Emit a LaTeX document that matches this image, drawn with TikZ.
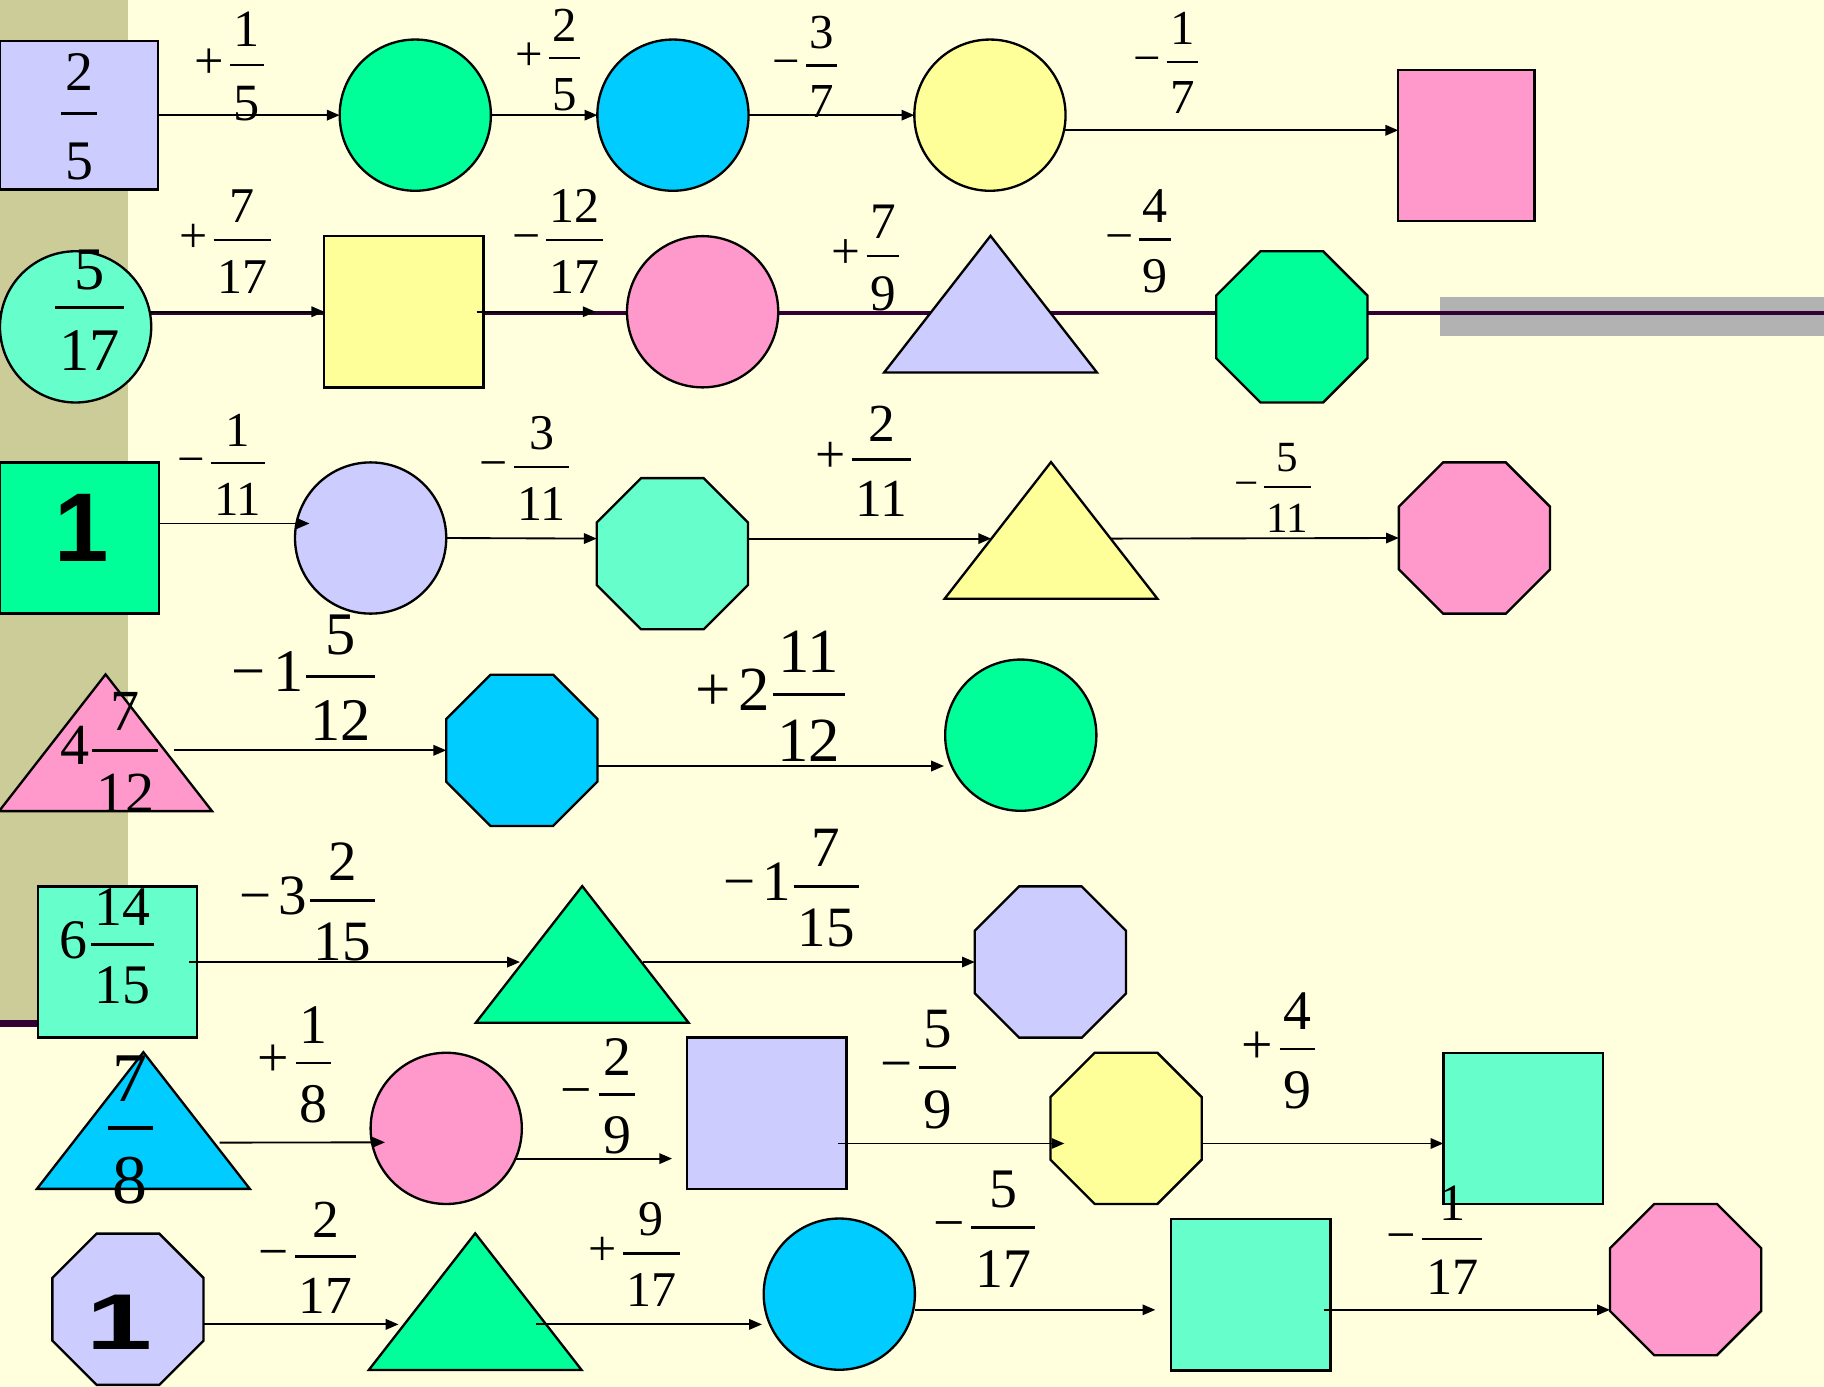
\documentclass[tikz,border=0pt]{standalone}
\usepackage{fontspec}
\usepackage{graphicx}
\setmainfont{Liberation Serif}
\newfontfamily\sansf{Liberation Sans}
\usetikzlibrary{shapes.geometric,arrows.meta,calc}
\definecolor{bgc}{HTML}{FFFFDD}
\definecolor{khaki}{HTML}{CCCC99}
\definecolor{grayb}{HTML}{B2B2B2}
\definecolor{tmplc}{HTML}{330033}
\definecolor{lav}{HTML}{CCCCFF}
\definecolor{grn}{HTML}{00FF99}
\definecolor{blu}{HTML}{00CCFF}
\definecolor{yel}{HTML}{FFFF99}
\definecolor{pnk}{HTML}{FF99CC}
\definecolor{aqu}{HTML}{66FFCC}
\newcommand\fs[1]{\fontsize{#1pt}{#1pt}\selectfont}
\newcommand\frg[4]{\raisebox{-\dimexpr.68em+#2-.225em\relax}{\vbox{\offinterlineskip\halign{\hfil\kern.07em##\kern.07em\hfil\cr\rule{0pt}{.68em}#3\cr\noalign{\kern#1\hrule height .05em\kern#2}\rule{0pt}{.68em}#4\cr}}}}
\newcommand\fr[2]{\frg{.32em}{.36em}{#1}{#2}}
\newcommand\pl{+\kern.12em}
\newcommand\mi{−\kern.12em}
\begin{document}
\begin{tikzpicture}[x=0.5pt,y=-0.5pt,
  shp/.style={draw=black,line width=1pt},
  circ/.style={shp,circle,minimum size=65pt,inner sep=0pt,outer sep=0pt},
  oct/.style={shp,regular polygon,regular polygon sides=8,minimum size=70.36pt,inner sep=0pt,outer sep=0pt},
  rect/.style={shp,rectangle,inner sep=0pt,outer sep=0pt,minimum width=68.5pt,minimum height=65pt},
  tribox/.style={rectangle,inner sep=0pt,outer sep=0pt,minimum width=91.5pt,minimum height=58.75pt},
  arr/.style={draw=black,line width=0.8pt,-{Triangle[length=5.5pt,width=4.5pt]}},
  lab/.style={inner sep=0pt,outer sep=0pt,anchor=center}]
% background
\fill[bgc] (0,0) rectangle (1568,1192);
\useasboundingbox (0,0) rectangle (1568,1192);
\fill[khaki] (0,0) rectangle (110,880);
\fill[grayb] (1238,255) rectangle (1568,289);
\draw[tmplc,line width=2pt] (0,269) -- (1568,269);
\draw[tmplc,line width=3pt] (0,880) -- (110,880);
% row 1
\node[rect,fill=lav,minimum width=68pt,minimum height=64pt] (sq1) at (68,99) {};
\node[circ,fill=grn] (c1) at (357,99) {};
\node[circ,fill=blu] (c2) at (578.5,99) {};
\node[circ,fill=yel] (c3) at (851,99) {};
\node[rect,fill=pnk,minimum width=58.5pt] (r1) at (1260.5,125) {};
% row 2
\node[circ,fill=aqu] (c4) at (65,281) {};
\node[rect,fill=yel] (sq2) at (347.25,268) {};
\node[circ,fill=pnk] (c5) at (604,268) {};
\node[tribox] (t1) at (851.5,261.5) {};
\draw[shp,fill=lav] (t1.south west) -- (t1.south east) -- (t1.north) -- cycle;
\node[oct,fill=grn] (o1) at (1110.5,281) {};
% row 3
\node[rect,fill=grn] (sq3) at (68.25,462.5) {};
\node[circ,fill=lav] (c6) at (318.6,462.5) {};
\node[oct,fill=aqu] (o2) at (578,476) {};
\node[tribox] (t2) at (903.5,456) {};
\draw[shp,fill=yel] (t2.south west) -- (t2.south east) -- (t2.north) -- cycle;
\node[oct,fill=pnk] (o3) at (1267.5,462.5) {};
% row 4
\node[tribox] (t3) at (90.75,638.5) {};
\draw[shp,fill=pnk] (t3.south west) -- (t3.south east) -- (t3.north) -- cycle;
\node[oct,fill=blu] (o4) at (448.6,645) {};
\node[circ,fill=grn] (c7) at (877.5,632) {};
% row 5
\node[rect,fill=aqu] (sq4) at (101,827) {};
\node[tribox] (t4) at (500.5,820.5) {};
\draw[shp,fill=grn] (t4.south west) -- (t4.south east) -- (t4.north) -- cycle;
\node[oct,fill=lav] (o5) at (903,827) {};
% row 6
\node[tribox] (t5) at (123.25,963.25) {};
\draw[shp,fill=blu] (t5.south west) -- (t5.south east) -- (t5.north) -- cycle;
\node[circ,fill=pnk] (c8) at (383.6,970) {};
\node[rect,fill=lav] (sq5) at (659.3,957) {};
\node[oct,fill=yel] (o6) at (968,970) {};
\node[rect,fill=aqu] (sq6) at (1309.25,970) {};
% row 7
\node[oct,fill=lav] (o7) at (110,1125.5) {};
\node[tribox] (t6) at (408.5,1119) {};
\draw[shp,fill=grn] (t6.south west) -- (t6.south east) -- (t6.north) -- cycle;
\node[circ,fill=blu] (c9) at (721.5,1112.5) {};
\node[rect,fill=aqu] (sq7) at (1075.25,1113) {};
\node[oct,fill=pnk] (o8) at (1449,1100) {};
% arrows
\draw[arr] (sq1.east) -- (c1.west);
\draw[arr] (c1.east) -- (c2.west);
\draw[arr] (c2.east) -- (c3.west);
\draw[arr] ($(c3.east)+(-1,13)$) -- ($(r1.west)+(0,-13)$);
\draw[arr] ($(c4.east)+(-1,-13)$) -- (sq2.west);
\draw[arr] ($(sq2.east)+(-6,0)$) -- ($(c5.west)+(-27,0)$);
\draw[arr] ($(sq3.east)+(0,-12.5)$) -- ($(c6.west)+(12.5,-12.5)$);
\draw[arr] (c6.east) -- ($(o2.west)+(0,-13)$);
\draw[arr] ($(o2.east)+(0,-13)$) -- ($(t2.west)+(40,7)$);
\draw[arr] ($(t2.east)+(-40,7)$) -- (o3.west);
\draw[arr] ($(t3.east)+(-32.5,6.5)$) -- (o4.west);
\draw[arr] ($(o4.east)+(0,13.5)$) -- ($(c7.west)+(-1,26.5)$);
\draw[arr] ($(sq4.east)+(-7,0)$) -- ($(t4.west)+(38,6.5)$);
\draw[arr] ($(t4.east)+(-39.4,6.5)$) -- (o5.west);
\draw[arr] ($(t5.east)+(-26,19)$) -- ($(c8.west)+(12.4,12)$);
\draw[arr] ($(c8.east)+(-5,26)$) -- ($(sq5.west)+(-13,39)$);
\draw[arr] ($(sq5.east)+(-7,26)$) -- ($(o6.west)+(12,13)$);
\draw[arr] ($(o6.east)+(0,13)$) -- ($(sq6.west)+(0,13)$);
\draw[arr] ($(o7.east)+(0,13)$) -- ($(t6.west)+(25.6,19.5)$);
\draw[arr] ($(t6.east)+(-39,19.5)$) -- ($(c9.west)+(-1.5,26)$);
\draw[arr] ($(c9.east)+(0,13.5)$) -- ($(sq7.west)+(-13.6,13)$);
\draw[arr] ($(sq7.east)+(-6,13)$) -- ($(o8.west)+(0,26)$);
% texts in shapes
\node[lab,font=\fs{24}] (x1) at (68,100) {\frg{.375em}{.48em}{2}{5}};
\node[lab,font=\fs{26}] (x2) at (77,266) {\frg{.27em}{.33em}{5}{17}};
\node[lab,font=\sansf\bfseries\fs{42}] (x3) at (70,454) {1};
\node[lab,font=\fs{25}] (x4) at (94,646) {4\kern.05em\fr{7}{12}};
\node[lab,font=\fs{24}] (x5) at (92,813) {6\kern.05em\fr{14}{15}};
\node[lab,font=\fs{30}] (x6) at (112,971) {\frg{.35em}{.38em}{7}{8}};
\node[lab,font=\sansf\bfseries\fs{34}] (x7) at (103,1137) {\scalebox{1.5}[1]{1}};
% labels on connectors
\node[lab,font=\fs{22.5}] (l1) at (197,57) {\pl\fr{1}{5}};
\node[lab,font=\fs{21}] (l2) at (471,51) {\pl\fr{2}{5}};
\node[lab,font=\fs{21}] (l3) at (692,57) {\mi\fr{3}{7}};
\node[lab,font=\fs{21}] (l4) at (1002,54) {\mi\fr{1}{7}};
\node[lab,font=\fs{21.5}] (l5) at (193.5,207) {\pl\fr{7}{17}};
\node[lab,font=\fs{21.5}] (l6) at (479.5,207) {\mi\fr{12}{17}};
\node[lab,font=\fs{22}] (l7) at (744,221) {\pl\fr{7}{9}};
\node[lab,font=\fs{21.5}] (l8) at (978.5,207) {\mi\fr{4}{9}};
\node[lab,font=\fs{21}] (l9) at (190,399) {\mi\fr{1}{11}};
\node[lab,font=\fs{21.5}] (l10) at (451,402) {\mi\fr{3}{11}};
\node[lab,font=\fs{23}] (l11) at (742,396) {\pl\fr{2}{11}};
\node[lab,font=\fs{18.5}] (l12) at (1094,419) {\mi\fr{5}{11}};
\node[lab,font=\fs{26}] (l13) at (261,582) {\mi 1\kern.05em\fr{5}{12}};
\node[lab,font=\fs{27}] (l14) at (662,598) {\pl 2\kern.05em\fr{11}{12}};
\node[lab,font=\fs{24.5}] (l15) at (264,775) {\mi 3\kern.05em\fr{2}{15}};
\node[lab,font=\fs{24.5}] (l16) at (680,763) {\mi 1\kern.05em\fr{7}{15}};
\node[lab,font=\fs{24}] (l17) at (253,915) {\pl\fr{1}{8}};
\node[lab,font=\fs{24}] (l18) at (514,942) {\mi\fr{2}{9}};
\node[lab,font=\fs{24.5}] (l19) at (789,919) {\mi\fr{5}{9}};
\node[lab,font=\fs{24}] (l20) at (1099,903) {\pl\fr{4}{9}};
\node[lab,font=\fs{23}] (l21) at (264,1081) {\mi\fr{2}{17}};
\node[lab,font=\fs{21.5}] (l22) at (545,1078) {\pl\fr{9}{17}};
\node[lab,font=\fs{24}] (l23) at (846,1056) {\mi\fr{5}{17}};
\node[lab,font=\fs{22.5}] (l24) at (1233,1066) {\mi\fr{1}{17}};
\end{tikzpicture}
\end{document}
